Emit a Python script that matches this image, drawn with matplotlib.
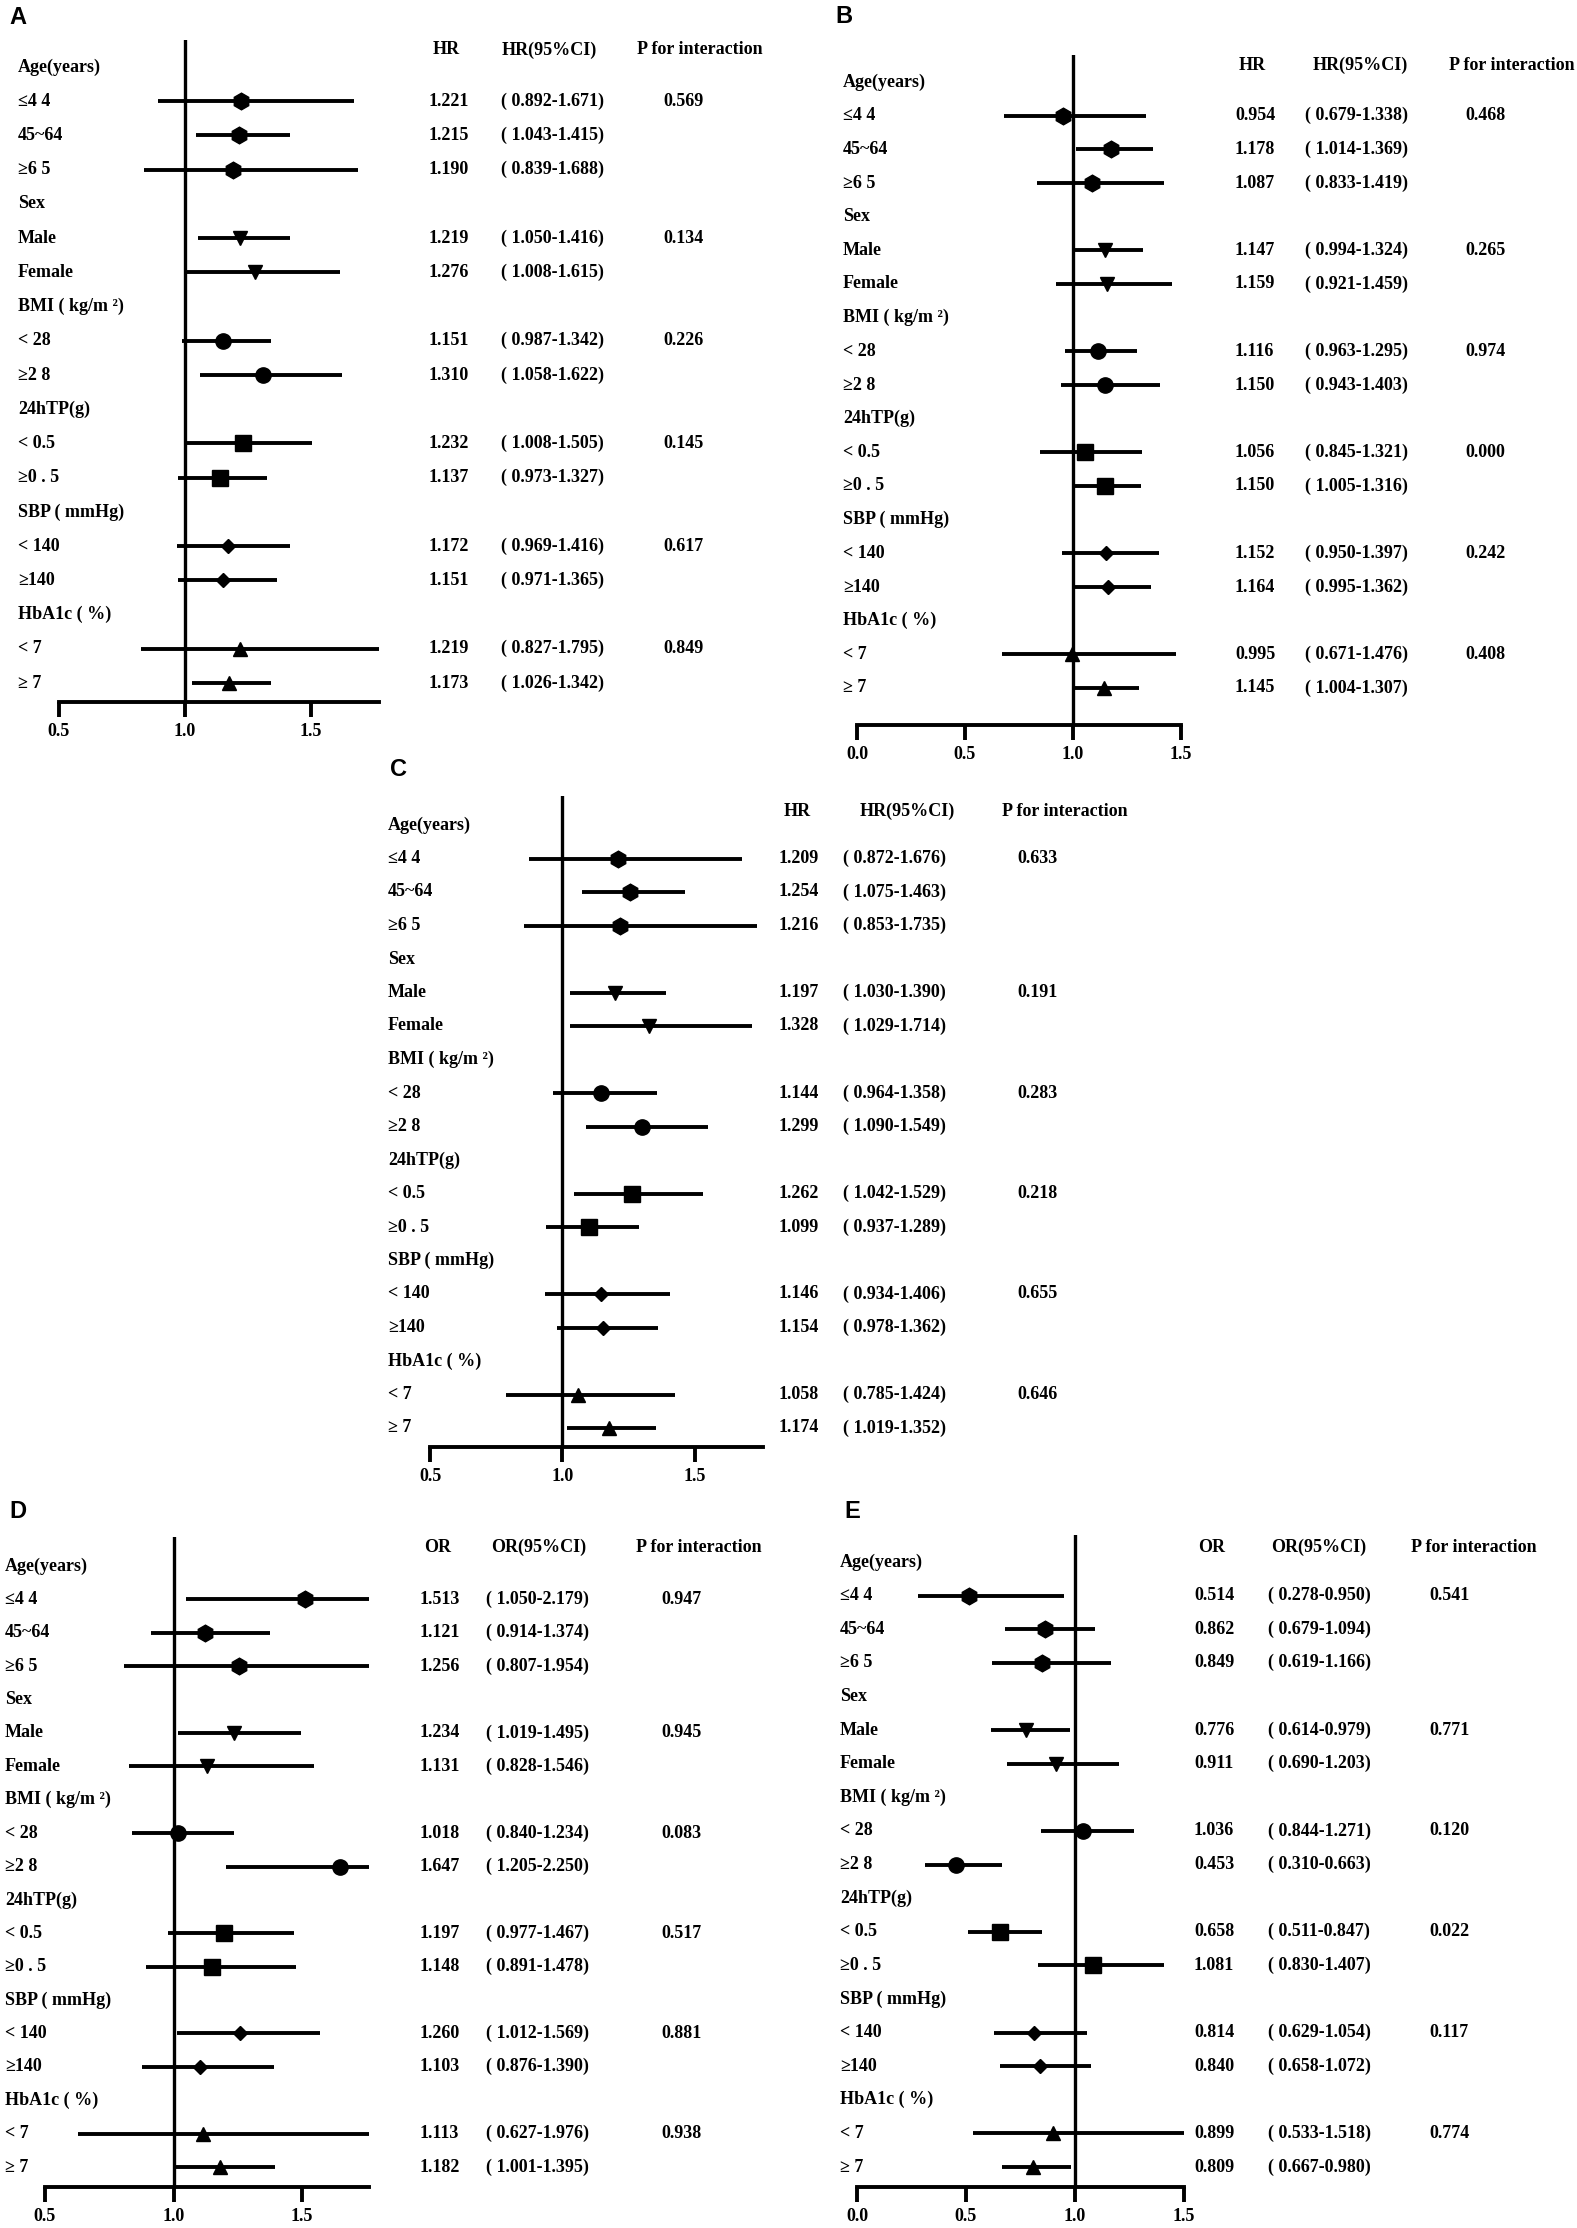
import matplotlib
matplotlib.use("Agg")
import matplotlib.pyplot as plt
import matplotlib.transforms as mtransforms

# 글꼴: 굵은 세리프 (원본은 Times 계열)
plt.rcParams["font.family"] = ["Liberation Serif", "DejaVu Serif"]
plt.rcParams["font.weight"] = "bold"

W, H = 1577, 2228  # 출력 크기 (px)

# 행 라벨 (모든 패널 공통)
row_labels = ["Age(years)", "≤4 4", "45~64", "≥6 5", "Sex", "Male", "Female",
              "BMI ( kg/m ²)", "< 28", "≥2 8", "24hTP(g)", "< 0.5", "≥0 . 5",
              "SBP ( mmHg)", "< 140", "≥140", "HbA1c ( %)", "< 7", "≥ 7"]
data_rows = [1, 2, 3, 5, 6, 8, 9, 11, 12, 14, 15, 17, 18]
p_rows = [1, 5, 8, 11, 14, 17]
markers = ["h", "h", "h", "v", "v", "o", "o", "s", "s", "D", "D", "^", "^"]
marker_sizes = [12, 12, 12, 10, 10, 11, 11, 11, 11, 7, 7, 10, 10]

# A
hr_a = [1.221, 1.215, 1.190, 1.219, 1.276, 1.151, 1.310, 1.232, 1.137, 1.172, 1.151, 1.219, 1.173]
lo_a = [0.892, 1.043, 0.839, 1.050, 1.008, 0.987, 1.058, 1.008, 0.973, 0.969, 0.971, 0.827, 1.026]
hi_a = [1.671, 1.415, 1.688, 1.416, 1.615, 1.342, 1.622, 1.505, 1.327, 1.416, 1.365, 1.795, 1.342]
p_a = ["0.569", "0.134", "0.226", "0.145", "0.617", "0.849"]

# B
hr_b = [0.954, 1.178, 1.087, 1.147, 1.159, 1.116, 1.150, 1.056, 1.150, 1.152, 1.164, 0.995, 1.145]
lo_b = [0.679, 1.014, 0.833, 0.994, 0.921, 0.963, 0.943, 0.845, 1.005, 0.950, 0.995, 0.671, 1.004]
hi_b = [1.338, 1.369, 1.419, 1.324, 1.459, 1.295, 1.403, 1.321, 1.316, 1.397, 1.362, 1.476, 1.307]
p_b = ["0.468", "0.265", "0.974", "0.000", "0.242", "0.408"]

# C
hr_c = [1.209, 1.254, 1.216, 1.197, 1.328, 1.144, 1.299, 1.262, 1.099, 1.146, 1.154, 1.058, 1.174]
lo_c = [0.872, 1.075, 0.853, 1.030, 1.029, 0.964, 1.090, 1.042, 0.937, 0.934, 0.978, 0.785, 1.019]
hi_c = [1.676, 1.463, 1.735, 1.390, 1.714, 1.358, 1.549, 1.529, 1.289, 1.406, 1.362, 1.424, 1.352]
p_c = ["0.633", "0.191", "0.283", "0.218", "0.655", "0.646"]

# D
or_d = [1.513, 1.121, 1.256, 1.234, 1.131, 1.018, 1.647, 1.197, 1.148, 1.260, 1.103, 1.113, 1.182]
lo_d = [1.050, 0.914, 0.807, 1.019, 0.828, 0.840, 1.205, 0.977, 0.891, 1.012, 0.876, 0.627, 1.001]
hi_d = [2.179, 1.374, 1.954, 1.495, 1.546, 1.234, 2.250, 1.467, 1.478, 1.569, 1.390, 1.976, 1.395]
p_d = ["0.947", "0.945", "0.083", "0.517", "0.881", "0.938"]

# E
or_e = [0.514, 0.862, 0.849, 0.776, 0.911, 1.036, 0.453, 0.658, 1.081, 0.814, 0.840, 0.899, 0.809]
lo_e = [0.278, 0.679, 0.619, 0.614, 0.690, 0.844, 0.310, 0.511, 0.830, 0.629, 0.658, 0.533, 0.667]
hi_e = [0.950, 1.094, 1.166, 0.979, 1.203, 1.271, 0.663, 0.847, 1.407, 1.054, 1.072, 1.518, 0.980]
p_e = ["0.541", "0.771", "0.120", "0.022", "0.117", "0.774"]

fig = plt.figure(figsize=(W / 100, H / 100), dpi=100)
FS = 13


def draw_panel(letter, est, lo, hi, pvals, measure, xlim, ticks, box, rows_px, header_y,
               cols, heads, letter_xy):
    left, right, top, bottom = box
    ax = fig.add_axes([left / W, 1 - bottom / H, (right - left) / W, (bottom - top) / H])
    r0, r18 = rows_px
    dy = (r18 - r0) / 18
    ax.set_xlim(xlim)
    ax.set_ylim((bottom - r0) / dy, (top - r0) / dy)

    for i, r in enumerate(data_rows):
        ax.plot([lo[i], hi[i]], [r, r], color="black", lw=2.8, solid_capstyle="butt")
        ax.plot(est[i], r, marker=markers[i], ms=marker_sizes[i], color="black", zorder=3)
    ax.axvline(1.0, color="black", lw=2.4)

    for s in ["left", "top", "right"]:
        ax.spines[s].set_visible(False)
    ax.spines["bottom"].set_linewidth(2.8)
    ax.set_yticks([])
    ax.set_xticks(ticks)
    ax.set_xticklabels(["%.1f" % t for t in ticks], fontsize=FS, fontweight="bold")
    ax.tick_params(axis="x", direction="out", length=11, width=2.8, pad=4)

    tr = mtransforms.blended_transform_factory(fig.transFigure, ax.transData)
    label_x, val_x, ci_x, p_x = cols
    for r, lab in enumerate(row_labels):
        ax.text(label_x / W, r, lab, transform=tr, ha="left", va="center", fontsize=FS)
    for i, r in enumerate(data_rows):
        ax.text(val_x / W, r, "%.3f" % est[i], transform=tr, ha="left", va="center", fontsize=FS)
        ax.text(ci_x / W, r, "( %.3f-%.3f)" % (lo[i], hi[i]), transform=tr,
                ha="left", va="center", fontsize=FS)
    for r, p in zip(p_rows, pvals):
        ax.text(p_x / W, r, p, transform=tr, ha="left", va="center", fontsize=FS)

    hrow = (header_y - r0) / dy
    for cx, txt in zip(heads, [measure, measure + "(95%CI)", "P for interaction"]):
        ax.text(cx / W, hrow, txt, transform=tr, ha="center", va="center", fontsize=FS)

    fig.text(letter_xy[0] / W, 1 - letter_xy[1] / H, letter, ha="left", va="top",
             fontsize=17, fontweight="bold", family=["Liberation Sans", "DejaVu Sans"])
    return ax


draw_panel("A", hr_a, lo_a, hi_a, p_a, "HR", (0.5, 1.77), [0.5, 1.0, 1.5],
           (59, 379, 40, 702), (67, 683), 50, (18, 429, 501, 663), (446, 549, 700), (9, 6))
draw_panel("B", hr_b, lo_b, hi_b, p_b, "HR", (0.0, 1.5), [0.0, 0.5, 1.0, 1.5],
           (857, 1181, 55, 725), (82, 688), 65, (843, 1235, 1305, 1465), (1252, 1360, 1512), (835, 5))
draw_panel("C", hr_c, lo_c, hi_c, p_c, "HR", (0.5, 1.757), [0.5, 1.0, 1.5],
           (430, 763, 796, 1447), (825, 1428), 811, (388, 779, 843, 1017), (797, 907, 1065), (390, 758))
draw_panel("D", or_d, lo_d, hi_d, p_d, "OR", (0.5, 1.76), [0.5, 1.0, 1.5],
           (45, 369, 1537, 2187), (1566, 2167), 1547, (5, 420, 486, 661), (438, 539, 699), (9, 1500))
draw_panel("E", or_e, lo_e, hi_e, p_e, "OR", (0.0, 1.5), [0.0, 0.5, 1.0, 1.5],
           (857, 1184, 1535, 2187), (1562, 2167), 1547, (840, 1194, 1268, 1429), (1212, 1319, 1474), (844, 1500))

fig.savefig("out.png", dpi=100)
